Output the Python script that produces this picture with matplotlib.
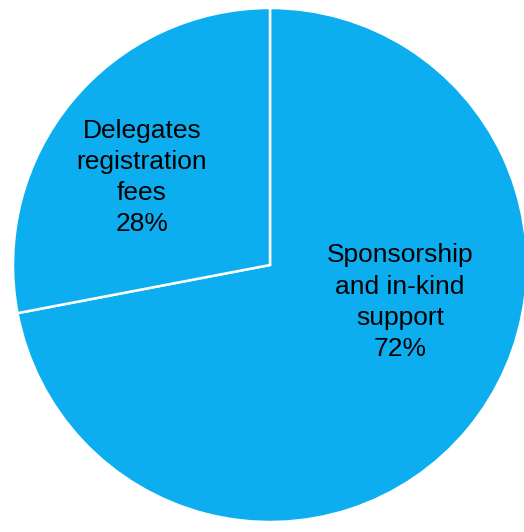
import matplotlib
matplotlib.use("Agg")
import matplotlib.pyplot as plt

categories = ["Sponsorship\nand in-kind\nsupport", "Delegates\nregistration\nfees"]
values = [72, 28]
colors = ["#0caef0", "#0caef0"]

W, H = 524, 532
cx, cy, R = 270, 265, 257

fig = plt.figure(figsize=(W / 100, H / 100), dpi=100)
ax = fig.add_axes([0, 0, 1, 1])
wedges, _ = ax.pie(values, colors=colors, startangle=90, counterclock=False,
                   radius=1.0, wedgeprops=dict(edgecolor="white", linewidth=1.8))
ax.set_xlim(-cx / R, (W - cx) / R)
ax.set_ylim(-(H - cy) / R, cy / R)
ax.set_aspect("auto")
ax.axis("off")

label_pos = [(0.506, -0.145), (-0.498, 0.34)]
for cat, v, (x, y) in zip(categories, values, label_pos):
    ax.text(x, y, f"{cat}\n{v}%", ha="center", va="center", fontsize=19,
            family="Liberation Sans", color="black", linespacing=1.38)

fig.savefig("out.png", dpi=100)
